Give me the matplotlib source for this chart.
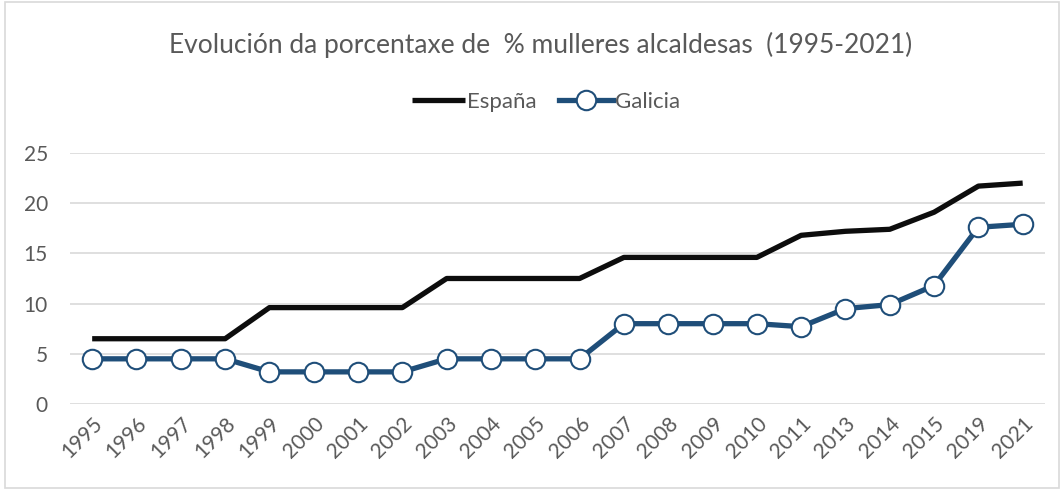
import matplotlib.pyplot as plt
from matplotlib.patches import Rectangle

plt.rcParams['font.family'] = ['Lato', 'DejaVu Sans']

# Data
years = ['1995', '1996', '1997', '1998', '1999', '2000', '2001', '2002', '2003',
         '2004', '2005', '2006', '2007', '2008', '2009', '2010', '2011', '2013',
         '2014', '2015', '2019', '2021']
espana = [6.5, 6.5, 6.5, 6.5, 9.6, 9.6, 9.6, 9.6, 12.5, 12.5, 12.5, 12.5,
          14.6, 14.6, 14.6, 14.6, 16.8, 17.2, 17.4, 19.1, 21.7, 22.0]
galicia = [4.5, 4.5, 4.5, 4.5, 3.2, 3.2, 3.2, 3.2, 4.5, 4.5, 4.5, 4.5,
           8.0, 8.0, 8.0, 8.0, 7.7, 9.5, 9.9, 11.8, 17.6, 17.9]

text_col = '#595959'
blue = '#1f4e79'

fig = plt.figure(figsize=(10.64, 4.9), dpi=100)
ax = fig.add_axes([0.0658, 0.1755, 0.9162, 0.5123])

x = range(len(years))
ax.plot(x, espana, color='#0d0d0d', lw=3.8, solid_capstyle='butt', label='España', zorder=3)
ax.plot(x, galicia, color=blue, lw=3.8, marker='o', markersize=14,
        markerfacecolor='white', markeredgecolor=blue, markeredgewidth=1.5,
        label='Galicia', zorder=4)

ax.set_xlim(-0.5, len(years) - 0.5)
ax.set_ylim(0, 25)
ax.set_yticks([0, 5, 10, 15, 20, 25])
ax.set_xticks(list(x))
ax.set_xticklabels(years, rotation=45, ha='right', rotation_mode='anchor')
ax.tick_params(axis='both', length=0, labelsize=15, colors=text_col)
ax.tick_params(axis='x', pad=7)
ax.tick_params(axis='y', pad=16)
ax.grid(axis='y', color='#d9d9d9', lw=1.2)
ax.set_axisbelow(True)
for s in ax.spines.values():
    s.set_visible(False)

fig.text(0.508, 0.908, 'Evolución da porcentaxe de  % mulleres alcaldesas  (1995-2021)',
         ha='center', va='center', fontsize=19, color=text_col)
ax.legend(loc='center', bbox_to_anchor=(0.513, 0.792), bbox_transform=fig.transFigure,
          ncol=2, frameon=False, fontsize=16, labelcolor=text_col,
          handlelength=2.4, handletextpad=0.1, columnspacing=1.0)

fig.patches.append(Rectangle((0.005, 0.005), 0.99, 0.99, transform=fig.transFigure,
                             fill=False, edgecolor='#d9d9d9', lw=1.2))

fig.savefig('out.png', dpi=100)
